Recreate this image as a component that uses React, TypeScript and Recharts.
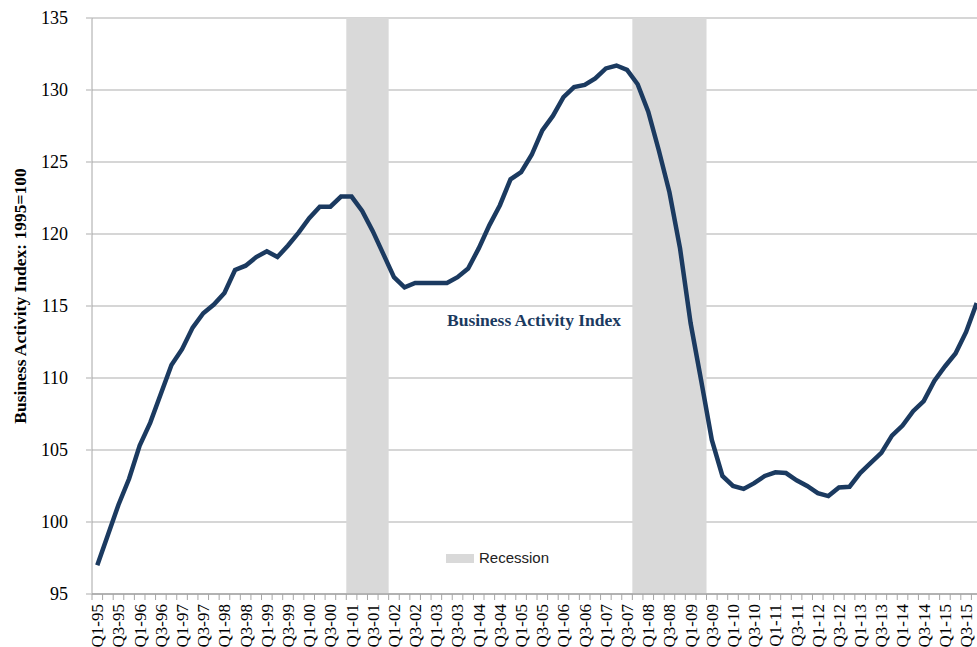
import React from 'react';
import {
  ComposedChart,
  Line,
  XAxis,
  YAxis,
  CartesianGrid,
  ReferenceArea,
} from 'recharts';

const years = ['95', '96', '97', '98', '99', '00', '01', '02', '03', '04', '05', '06', '07', '08', '09', '10', '11', '12', '13', '14', '15'];
const quarters: string[] = [];
years.forEach((yr) => {
  ['Q1', 'Q2', 'Q3', 'Q4'].forEach((q) => quarters.push(`${q}-${yr}`));
});

const businessIndex = [
  97.0, 99.1, 101.2, 103.0, 105.3, 106.9, 108.9, 110.9,
  112.0, 113.5, 114.5, 115.1, 115.9, 117.5, 117.8, 118.4,
  118.8, 118.4, 119.2, 120.1, 121.1, 121.9, 121.9, 122.6,
  122.6, 121.6, 120.2, 118.6, 117.0, 116.3, 116.6, 116.6,
  116.6, 116.6, 117.0, 117.6, 119.0, 120.6, 122.0, 123.8,
  124.3, 125.5, 127.2, 128.2, 129.5, 130.2, 130.35, 130.8,
  131.5, 131.7, 131.4, 130.4, 128.5, 125.8, 122.9, 119.0,
  113.8, 109.8, 105.7, 103.2, 102.5, 102.3, 102.7, 103.2,
  103.45, 103.4, 102.9, 102.5, 102.0, 101.8, 102.4, 102.45,
  103.4, 104.1, 104.8, 106.0, 106.7, 107.7, 108.4, 109.8,
  110.8, 111.7, 113.2, 115.2,
];

const recessions = [
  { start: 'Q1-01', end: 'Q4-01' },
  { start: 'Q4-07', end: 'Q2-09' },
];

const yTicks = [95, 100, 105, 110, 115, 120, 125, 130, 135];

const data = businessIndex.map((v, i) => ({ i, q: quarters[i], v }));
const xTicks = data.map((d) => d.i);

const CHART_W = 990;
const CHART_H = 647;
const PLOT_LEFT = 92;
const RIGHT_MARGIN = 8;
const BAND = (CHART_W - PLOT_LEFT - RIGHT_MARGIN) / data.length;

const XTick = (props: any) => {
  const { x, y, payload } = props;
  const idx = payload.value as number;
  const label = quarters[idx];
  const showLabel = idx % 2 === 0;
  return (
    <g>
      <line x1={x - BAND / 2} y1={y} x2={x - BAND / 2} y2={y + 6} stroke="#a6a6a6" strokeWidth={1} />
      {showLabel && (
        <text
          x={x}
          y={y + 10}
          transform={`rotate(-90, ${x}, ${y + 10})`}
          textAnchor="end"
          dy="0.35em"
          fontFamily="'Liberation Serif', serif"
          fontSize={17}
          fill="#000"
        >
          {label}
        </text>
      )}
    </g>
  );
};

export default function App() {
  return (
    <div style={{ position: 'absolute', left: 0, top: 0, width: 977, height: 647, overflow: 'hidden', background: '#fff' }}>
      <ComposedChart
        width={CHART_W}
        height={CHART_H}
        data={data}
        margin={{ top: 18, right: RIGHT_MARGIN, left: 0, bottom: 0 }}
      >
        <CartesianGrid vertical={false} stroke="#c8c8c8" strokeWidth={1.5} />
        <XAxis
          dataKey="i"
          type="number"
          domain={[-0.5, data.length - 0.5]}
          ticks={xTicks}
          interval={0}
          height={53}
          tickLine={false}
          tickSize={0}
          tickMargin={0}
          axisLine={{ stroke: '#a6a6a6', strokeWidth: 1.5 }}
          tick={<XTick />}
        />
        <YAxis
          domain={[95, 135]}
          ticks={yTicks}
          width={PLOT_LEFT}
          tickSize={6}
          tickMargin={18}
          interval={0}
          tickLine={{ stroke: '#c8c8c8', strokeWidth: 1.5 }}
          axisLine={{ stroke: '#a6a6a6', strokeWidth: 1 }}
          tick={{ fill: '#000', fontSize: 18, fontFamily: "'Liberation Serif', serif" }}
        />
        {recessions.map((r) => (
          <ReferenceArea
            key={r.start}
            x1={quarters.indexOf(r.start) - 0.5}
            x2={quarters.indexOf(r.end) + 0.5}
            fill="#d9d9d9"
            fillOpacity={1}
            stroke="none"
          />
        ))}
        <Line
          type="linear"
          dataKey="v"
          stroke="#1b3a60"
          strokeWidth={4.5}
          dot={false}
          activeDot={false}
          isAnimationActive={false}
        />
      </ComposedChart>
      <div
        style={{
          position: 'absolute',
          left: 20,
          top: 296,
          transform: 'translate(-50%, -50%) rotate(-90deg)',
          whiteSpace: 'nowrap',
          fontFamily: "'Liberation Serif', serif",
          fontWeight: 'bold',
          fontSize: 17.5,
          color: '#000',
        }}
      >
        Business Activity Index: 1995=100
      </div>
      <div
        style={{
          position: 'absolute',
          left: 447,
          top: 308,
          whiteSpace: 'nowrap',
          fontFamily: "'Liberation Serif', serif",
          fontWeight: 'bold',
          fontSize: 17.5,
          color: '#1b3a60',
          lineHeight: '24px',
        }}
      >
        Business Activity Index
      </div>
      <div style={{ position: 'absolute', left: 446, top: 548, display: 'flex', alignItems: 'center' }}>
        <div style={{ width: 28, height: 9, background: '#d9d9d9', marginRight: 5 }} />
        <span style={{ fontFamily: "'Liberation Sans', Arial, sans-serif", fontSize: 15, color: '#222', lineHeight: '20px' }}>
          Recession
        </span>
      </div>
    </div>
  );
}
